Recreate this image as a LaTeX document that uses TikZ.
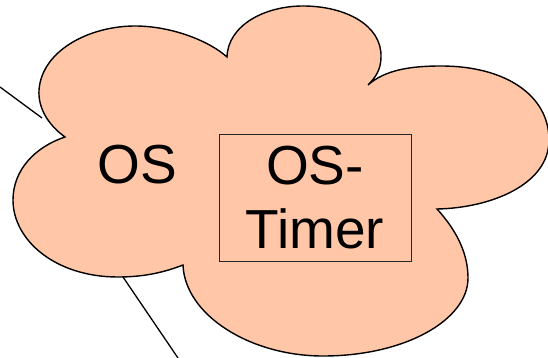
\documentclass[tikz,border=0pt]{standalone}
\usepackage{fontspec}
\setmainfont{Liberation Sans}
\usepackage{tikz}
\usetikzlibrary{positioning}
\definecolor{cloudfill}{RGB}{255,198,168}

\begin{document}
\begin{tikzpicture}[x=1pt,y=-1pt]
\tikzstyle{bigtext}=[font=\fontsize{55}{64}\selectfont,inner sep=0pt]
\tikzstyle{timerbox}=[bigtext,draw=black!85,line width=0.8pt,minimum width=192pt,minimum height=127pt,align=center]
\tikzstyle{wire}=[line width=1.3pt]
\useasboundingbox (0,0) rectangle (548,358);
\draw[fill=cloudfill,line width=1.4pt] (65,137)
  .. controls (47,124) and (38,107) .. (39,90)
  .. controls (42,50) and (90,26) .. (135,26)
  .. controls (170,26) and (208,40) .. (227,57)
  .. controls (228,25) and (265,6) .. (303,6)
  .. controls (345,6) and (382,25) .. (381,57)
  .. controls (381,70) and (375,78) .. (368,85)
  .. controls (385,70) and (410,66) .. (441,66)
  .. controls (505,66) and (549,95) .. (549,140)
  .. controls (549,185) and (490,208) .. (437,209)
  .. controls (458,232) and (468,255) .. (468,278)
  .. controls (468,320) and (405,356) .. (323,356)
  .. controls (250,356) and (185,315) .. (183,265)
  .. controls (165,272) and (145,277) .. (118,277)
  .. controls (55,277) and (13,240) .. (13,200)
  .. controls (13,170) and (35,147) .. (65,137) -- cycle;
\node[bigtext,anchor=base] (os) at (137,183) {OS};
\node[timerbox] (timer) at (315,197.5) {OS-\\Timer};
\coordinate (endA) at (0,87);
\coordinate (tipA) at (42,118);
\coordinate (tipB) at (123,277);
\coordinate (endB) at (178,358);
\draw[wire] (endA) -- (tipA);
\draw[wire] (tipB) -- (endB);
\end{tikzpicture}
\end{document}
